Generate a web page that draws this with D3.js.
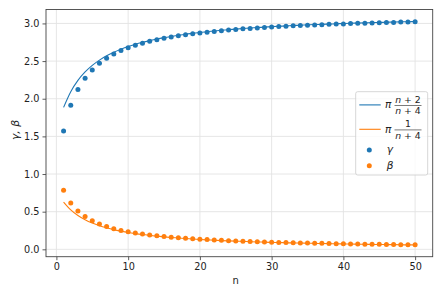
<!DOCTYPE html>
<html>
<head>
<meta charset="utf-8">
<script src="https://cdn.jsdelivr.net/npm/d3@7"></script>
<style>
  body { margin: 0; background: #fff; }
  svg { font-family: "DejaVu Sans", sans-serif; }
</style>
</head>
<body>
<div id="chart"></div>
<script>
// values
const nValues = d3.range(1, 51);
const gammaLine = [1.885, 2.094, 2.244, 2.356, 2.443, 2.513, 2.570, 2.618, 2.658, 2.693,
    2.723, 2.749, 2.772, 2.793, 2.811, 2.827, 2.842, 2.856, 2.868, 2.880,
    2.890, 2.900, 2.909, 2.917, 2.925, 2.932, 2.939, 2.945, 2.951, 2.957,
    2.962, 2.967, 2.972, 2.976, 2.981, 2.985, 2.988, 2.992, 2.995, 2.999,
    3.002, 3.005, 3.008, 3.011, 3.013, 3.016, 3.018, 3.021, 3.023, 3.025];
const betaLine = [0.628, 0.524, 0.449, 0.393, 0.349, 0.314, 0.286, 0.262, 0.242, 0.224,
    0.209, 0.196, 0.185, 0.175, 0.165, 0.157, 0.150, 0.143, 0.137, 0.131,
    0.126, 0.121, 0.116, 0.112, 0.108, 0.105, 0.101, 0.098, 0.095, 0.092,
    0.090, 0.087, 0.085, 0.083, 0.081, 0.079, 0.077, 0.075, 0.073, 0.071,
    0.070, 0.068, 0.067, 0.065, 0.064, 0.063, 0.062, 0.060, 0.059, 0.058];
const gammaDots = [1.571, 1.912, 2.122, 2.272, 2.382, 2.470, 2.538, 2.594, 2.640, 2.678,
    2.710, 2.738, 2.762, 2.784, 2.804, 2.820, 2.836, 2.850, 2.862, 2.874,
    2.884, 2.894, 2.904, 2.912, 2.920, 2.928, 2.934, 2.940, 2.946, 2.952,
    2.958, 2.962, 2.968, 2.972, 2.976, 2.980, 2.984, 2.988, 2.992, 2.994,
    2.998, 3.002, 3.004, 3.006, 3.010, 3.012, 3.014, 3.018, 3.020, 3.022];
const betaDots = [0.785, 0.615, 0.510, 0.435, 0.380, 0.336, 0.302, 0.274, 0.251, 0.232,
    0.216, 0.202, 0.190, 0.179, 0.169, 0.161, 0.153, 0.146, 0.140, 0.134,
    0.129, 0.124, 0.119, 0.115, 0.111, 0.107, 0.104, 0.101, 0.098, 0.095,
    0.092, 0.090, 0.087, 0.085, 0.083, 0.081, 0.079, 0.077, 0.075, 0.074,
    0.072, 0.070, 0.069, 0.068, 0.066, 0.065, 0.064, 0.062, 0.061, 0.060];
const xTicks = [0, 10, 20, 30, 40, 50];
const yTicks = [0.0, 0.5, 1.0, 1.5, 2.0, 2.5, 3.0];

const blue = '#1f77b4';
const orange = '#ff7f0e';

const W = 443, H = 295;
const margin = { top: 9.5, right: 10.3, bottom: 38.3, left: 46 };
const width = W - margin.left - margin.right;
const height = H - margin.top - margin.bottom;

const svg = d3.select('#chart').append('svg')
    .attr('width', W)
    .attr('height', H);

const g = svg.append('g')
    .attr('transform', `translate(${margin.left},${margin.top})`);

const x = d3.scaleLinear().domain([-1.45, 52.45]).range([0, width]);
const y = d3.scaleLinear().domain([-0.098, 3.185]).range([height, 0]);

// grid
g.append('g').selectAll('line').data(xTicks).enter().append('line')
    .attr('x1', d => x(d)).attr('x2', d => x(d))
    .attr('y1', 0).attr('y2', height)
    .attr('stroke', '#e3e3e3').attr('stroke-width', 0.9);
g.append('g').selectAll('line').data(yTicks).enter().append('line')
    .attr('y1', d => y(d)).attr('y2', d => y(d))
    .attr('x1', 0).attr('x2', width)
    .attr('stroke', '#e3e3e3').attr('stroke-width', 0.9);

// axes
const xAxis = g.append('g')
    .attr('transform', `translate(0,${height})`)
    .call(d3.axisBottom(x).tickValues(xTicks).tickSize(3.5).tickPadding(3).tickFormat(d3.format('d')));
const yAxis = g.append('g')
    .call(d3.axisLeft(y).tickValues(yTicks).tickSize(3.5).tickPadding(3).tickFormat(d3.format('.1f')));
[xAxis, yAxis].forEach(a => {
    a.select('.domain').remove();
    a.selectAll('line').attr('stroke', '#333').attr('stroke-width', 0.8);
    a.selectAll('text').attr('fill', '#222').style('font-size', '9.7px')
        .style('font-family', '"DejaVu Sans", sans-serif');
});

// spines
g.append('rect')
    .attr('width', width).attr('height', height)
    .attr('fill', 'none').attr('stroke', '#444').attr('stroke-width', 0.9);

// lines
const line = d3.line()
    .x((d, i) => x(nValues[i]))
    .y(d => y(d))
    .curve(d3.curveMonotoneX);

g.append('path').datum(gammaLine).attr('d', line)
    .attr('fill', 'none').attr('stroke', blue).attr('stroke-width', 1.1);
g.append('path').datum(betaLine).attr('d', line)
    .attr('fill', 'none').attr('stroke', orange).attr('stroke-width', 1.1);

// dots
g.append('g').selectAll('circle').data(gammaDots).enter().append('circle')
    .attr('cx', (d, i) => x(nValues[i])).attr('cy', d => y(d))
    .attr('r', 2.5).attr('fill', blue);
g.append('g').selectAll('circle').data(betaDots).enter().append('circle')
    .attr('cx', (d, i) => x(nValues[i])).attr('cy', d => y(d))
    .attr('r', 2.5).attr('fill', orange);

// axis labels
svg.append('text')
    .attr('x', margin.left + x(25)).attr('y', 284)
    .attr('text-anchor', 'middle')
    .style('font-size', '10px').attr('fill', '#222')
    .text('n');

svg.append('text')
    .attr('transform', `translate(18.5,130) rotate(-90)`)
    .attr('text-anchor', 'middle')
    .style('font-size', '10.8px').style('font-style', 'italic').attr('fill', '#222')
    .text('γ, β');

// legend
const lg = svg.append('g').attr('transform', 'translate(355.7,91.7)');
lg.append('rect')
    .attr('width', 72).attr('height', 83.3).attr('rx', 2)
    .attr('fill', 'white').attr('fill-opacity', 0.8)
    .attr('stroke', '#ccc').attr('stroke-width', 0.8);

function fraction(parent, cx, cy, num, den, color) {
    parent.append('line')
        .attr('x1', 3.6).attr('x2', 25)
        .attr('y1', cy).attr('y2', cy)
        .attr('stroke', color).attr('stroke-width', 1.1);
    parent.append('text')
        .attr('x', 29.3).attr('y', cy + 3.5)
        .style('font-size', '10.5px').style('font-style', 'italic').attr('fill', '#222')
        .text('π');
    parent.append('text')
        .attr('x', cx).attr('y', cy - 1.8)
        .attr('text-anchor', 'middle')
        .style('font-size', '9.3px').attr('fill', '#222')
        .html(num);
    parent.append('line')
        .attr('x1', cx - 13.5).attr('x2', cx + 13.5)
        .attr('y1', cy + 0.6).attr('y2', cy + 0.6)
        .attr('stroke', '#222').attr('stroke-width', 0.6);
    parent.append('text')
        .attr('x', cx).attr('y', cy + 9.6)
        .attr('text-anchor', 'middle')
        .style('font-size', '9.3px').attr('fill', '#222')
        .html(den);
}

fraction(lg, 52.3, 13.2, '<tspan font-style="italic">n</tspan> + 2', '<tspan font-style="italic">n</tspan> + 4', blue);
fraction(lg, 52.3, 37.6, '1', '<tspan font-style="italic">n</tspan> + 4', orange);

const dotLabels = [['γ', blue, 58.3], ['β', orange, 74]];
dotLabels.forEach(([lab, col, cy]) => {
    lg.append('circle').attr('cx', 13.6).attr('cy', cy).attr('r', 2.5).attr('fill', col);
    lg.append('text')
        .attr('x', 31).attr('y', cy + 3.5)
        .style('font-size', '10.5px').style('font-style', 'italic').attr('fill', '#222')
        .text(lab);
});
</script>
</body>
</html>
